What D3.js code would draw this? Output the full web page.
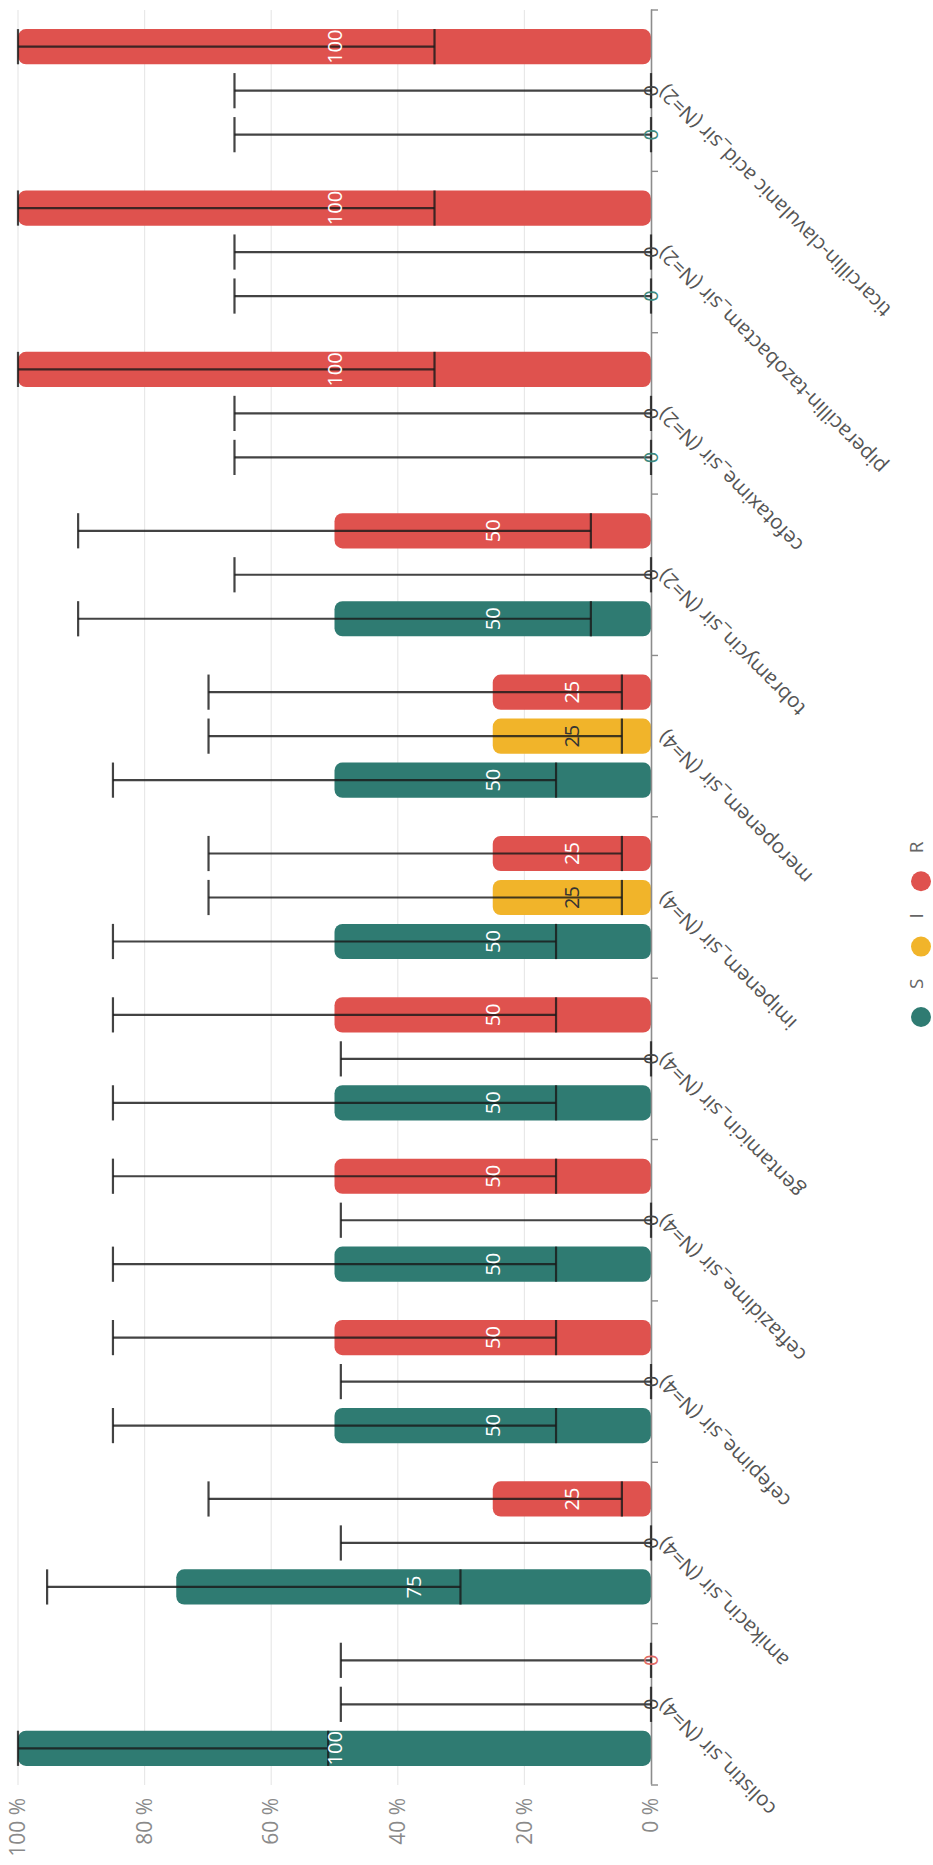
<!DOCTYPE html>
<html>
<head>
<meta charset="utf-8">
<script src="https://cdn.jsdelivr.net/npm/d3@7"></script>
<style>
  html, body { margin: 0; padding: 0; background: #fff; }
  svg { display: block; }
  text { font-family: "Open Sans", "DejaVu Sans", sans-serif; }
</style>
</head>
<body>
<svg id="chart" width="933" height="1865"></svg>
<script>
// ---- data ----
const categories = [
  "colistin_sir (N=4)", "amikacin_sir (N=4)", "cefepime_sir (N=4)",
  "ceftazidime_sir (N=4)", "gentamicin_sir (N=4)", "imipenem_sir (N=4)",
  "meropenem_sir (N=4)", "tobramycin_sir (N=2)", "cefotaxime_sir (N=2)",
  "piperacillin-tazobactam_sir (N=2)", "ticarcillin-clavulanic acid_sir (N=2)"
];
const seriesKeys = ["S", "I", "R"];
const valuesS = [100, 75, 50, 50, 50, 50, 50, 50, 0, 0, 0];
const valuesI = [0, 0, 0, 0, 0, 25, 25, 0, 0, 0, 0];
const valuesR = [0, 25, 50, 50, 50, 25, 25, 50, 100, 100, 100];
const lowerS = [51, 30.1, 15, 15, 15, 15, 15, 9.5, 0, 0, 0];
const upperS = [100, 95.4, 85, 85, 85, 85, 85, 90.5, 65.8, 65.8, 65.8];
const lowerI = [0, 0, 0, 0, 0, 4.6, 4.6, 0, 0, 0, 0];
const upperI = [49, 49, 49, 49, 49, 69.9, 69.9, 65.8, 65.8, 65.8, 65.8];
const lowerR = [0, 4.6, 15, 15, 15, 4.6, 4.6, 9.5, 34.2, 34.2, 34.2];
const upperR = [49, 69.9, 85, 85, 85, 69.9, 69.9, 90.5, 100, 100, 100];
const tickValues = [0, 20, 40, 60, 80, 100];
const tickLabels = ["0 %", "20 %", "40 %", "60 %", "80 %", "100 %"];

const colors = { S: "#2f7b72", I: "#f1b42a", R: "#df524e" };
const labelColors = { S: "#ffffff", I: "#333333", R: "#ffffff" };
const zeroLabelColors = { S: "#3d8a80", I: "#444444", R: "#e06a66" };

const valuesByKey = { S: valuesS, I: valuesI, R: valuesR };
const lowerByKey = { S: lowerS, I: lowerI, R: lowerR };
const upperByKey = { S: upperS, I: upperI, R: upperR };

const records = [];
categories.forEach((c, i) => {
  seriesKeys.forEach(k => {
    records.push({ cat: c, key: k, value: valuesByKey[k][i], lo: lowerByKey[k][i], hi: upperByKey[k][i] });
  });
});

// ---- layout (drawn in original landscape orientation, then rotated) ----
const W = 1865, H = 933;
const svg = d3.select("#chart");
const g = svg.append("g").attr("transform", `translate(0,${W}) rotate(-90)`);

const x0 = d3.scaleBand().domain(categories).range([80, 1855]).paddingInner(0).paddingOuter(0);
const x1 = d3.scaleBand().domain(seriesKeys).range([0, x0.bandwidth()]).paddingInner(0.2).paddingOuter(0.434);
const y = d3.scaleLinear().domain([0, 100]).range([651, 18]);

// gridlines
g.append("g").selectAll("line").data(tickValues.filter(v => v > 0)).join("line")
  .attr("x1", 80).attr("x2", 1855)
  .attr("y1", d => y(d)).attr("y2", d => y(d))
  .attr("stroke", "#e8e8e8").attr("stroke-width", 1.2);

// value axis labels
const yAxis = d3.axisLeft(y).tickValues(tickValues).tickSize(0).tickPadding(13)
  .tickFormat((d, i) => tickLabels[i]);
const yg = g.append("g").attr("transform", "translate(80,0)").call(yAxis);
yg.select(".domain").remove();
yg.selectAll("text").attr("font-size", 21).attr("fill", "#8a8a8a")
  .style("font-family", '"Open Sans", sans-serif');

// bars
const rr = 8;
g.append("g").selectAll("path").data(records.filter(d => d.value > 0)).join("path")
  .attr("d", d => {
    const bx = x0(d.cat) + x1(d.key), bw = x1.bandwidth();
    const top = y(d.value), bot = y(0);
    const r = Math.min(rr, (bot - top) / 2, bw / 2);
    const p = d3.path();
    p.moveTo(bx + r, top);
    p.lineTo(bx + bw - r, top);
    p.arcTo(bx + bw, top, bx + bw, top + r, r);
    p.lineTo(bx + bw, bot - r);
    p.arcTo(bx + bw, bot, bx + bw - r, bot, r);
    p.lineTo(bx + r, bot);
    p.arcTo(bx, bot, bx, bot - r, r);
    p.lineTo(bx, top + r);
    p.arcTo(bx, top, bx + r, top, r);
    p.closePath();
    return p.toString();
  })
  .attr("fill", d => colors[d.key]);

// category axis
const xAxis = d3.axisBottom(x0).tickSize(0).tickFormat("");
const xg = g.append("g").attr("transform", "translate(0,651)").call(xAxis);
xg.select(".domain").attr("stroke", "#8c8c8c").attr("stroke-width", 1.6);
// boundary ticks
const bounds = d3.range(categories.length + 1).map(i => x0.range()[0] + i * x0.step());
g.append("g").selectAll("line").data(bounds).join("line")
  .attr("x1", d => d).attr("x2", d => d)
  .attr("y1", 651).attr("y2", 658)
  .attr("stroke", "#8c8c8c").attr("stroke-width", 1.4);

// category labels
g.append("g").selectAll("text").data(categories).join("text")
  .attr("transform", d => `translate(${x0(d) + x0.bandwidth() / 2 + 2},${662}) rotate(-45)`)
  .attr("text-anchor", "end")
  .attr("dy", "0.35em")
  .attr("font-size", 20.5)
  .attr("fill", "#555")
  .text(d => d);

// error bars
const eg = g.append("g").attr("stroke", "#1a1a1a").attr("stroke-opacity", 0.82).attr("stroke-width", 2.2);
const cw = x1.bandwidth() / 2;
records.forEach(d => {
  const cx = x0(d.cat) + x1(d.key) + x1.bandwidth() / 2;
  eg.append("line").attr("x1", cx).attr("x2", cx).attr("y1", y(d.lo)).attr("y2", y(d.hi));
  eg.append("line").attr("x1", cx - cw).attr("x2", cx + cw).attr("y1", y(d.lo)).attr("y2", y(d.lo));
  eg.append("line").attr("x1", cx - cw).attr("x2", cx + cw).attr("y1", y(d.hi)).attr("y2", y(d.hi));
});

// data labels
g.append("g").selectAll("text").data(records).join("text")
  .attr("x", d => x0(d.cat) + x1(d.key) + x1.bandwidth() / 2)
  .attr("y", d => (y(d.value) + y(0)) / 2)
  .attr("dy", "0.35em")
  .attr("text-anchor", "middle")
  .attr("font-size", 20)
  .attr("fill", d => d.value > 0 ? labelColors[d.key] : zeroLabelColors[d.key])
  .text(d => d.value);

// legend
const legend = g.append("g").attr("transform", "translate(838,919)");
let lx = 0;
seriesKeys.forEach(k => {
  const item = legend.append("g").attr("transform", `translate(${lx},0)`);
  item.append("circle").attr("cx", 10).attr("cy", 2).attr("r", 10).attr("fill", colors[k]);
  const t = item.append("text").attr("x", 38).attr("y", -3).attr("dy", "0.35em")
    .attr("font-size", 19).attr("fill", "#666").text(k);
  lx += 38 + t.node().getComputedTextLength() + 22;
});
</script>
</body>
</html>
